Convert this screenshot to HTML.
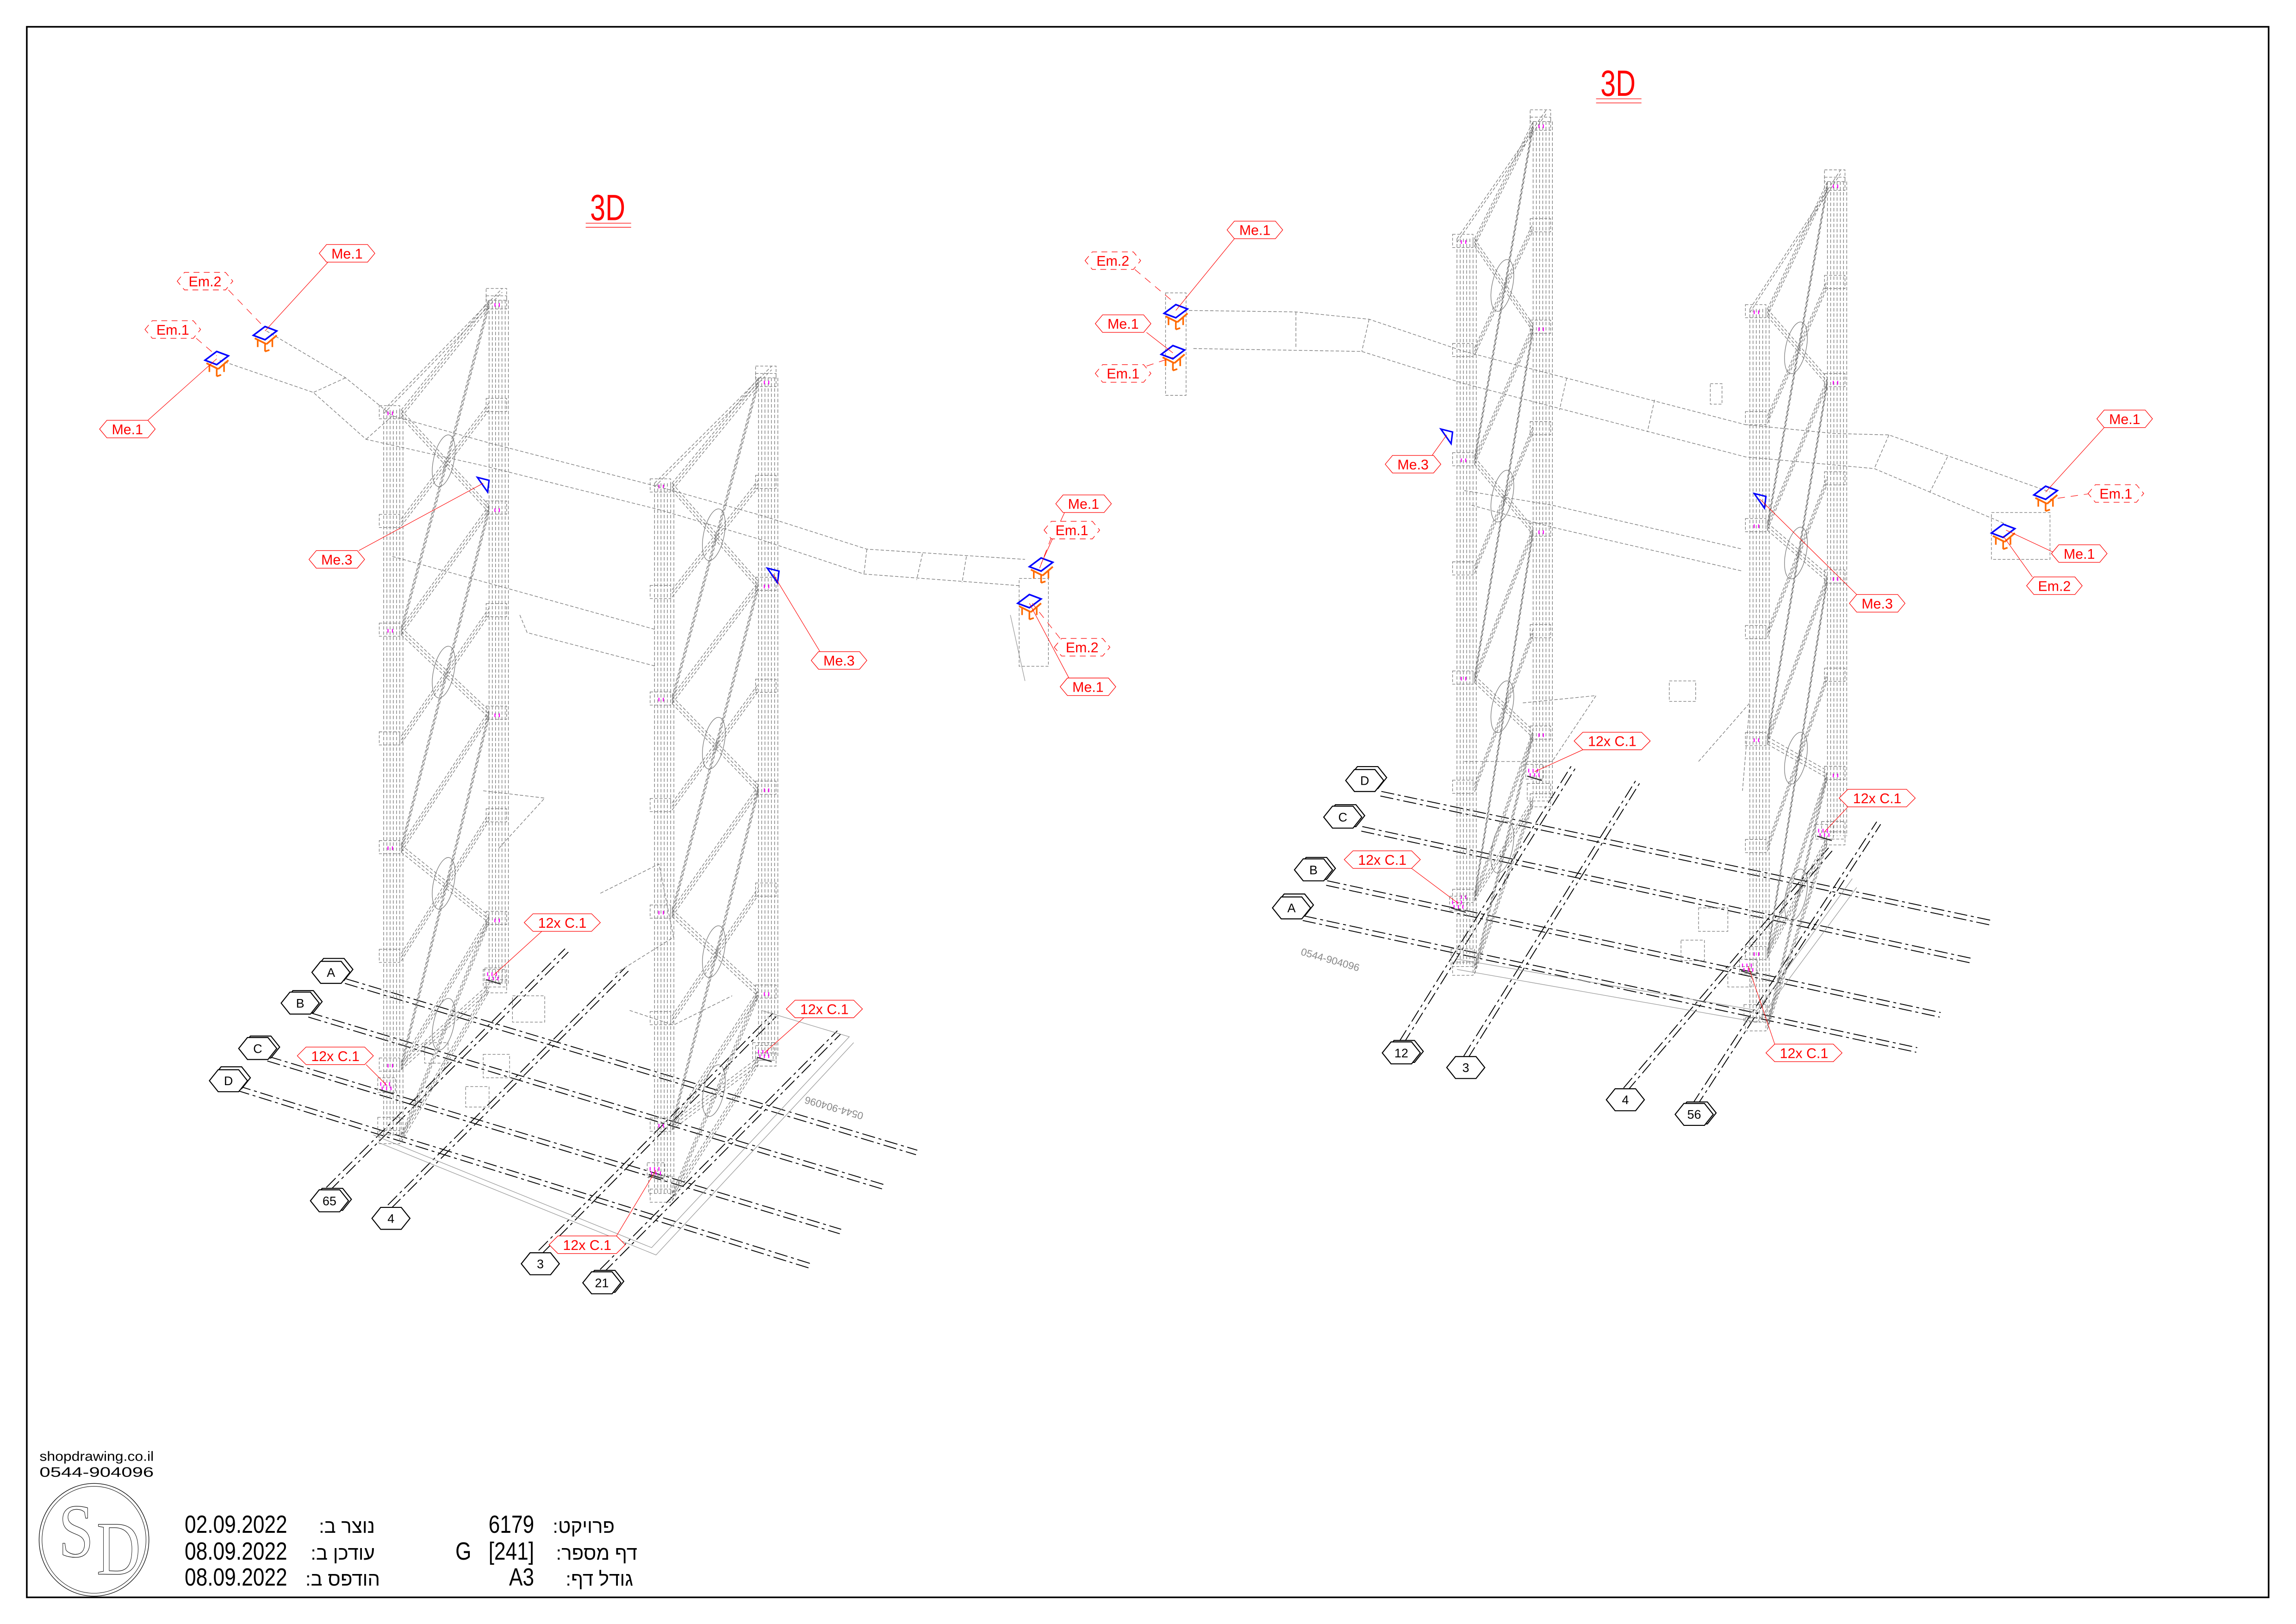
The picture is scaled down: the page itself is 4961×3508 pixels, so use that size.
<!DOCTYPE html>
<html><head><meta charset="utf-8">
<style>
html,body{margin:0;padding:0;background:#fff;}
body{width:4961px;height:3508px;position:relative;overflow:hidden;font-family:"Liberation Sans",sans-serif;}
svg{position:absolute;left:0;top:0;}
.lbl text{font-family:"Liberation Sans",sans-serif;font-size:9.6px;fill:#f00;text-anchor:middle;}
.lbl use{fill:#fff;stroke:#f00;stroke-width:0.4;}
.lbl.em use{stroke-dasharray:4 3;}
.ax use{fill:#fff;stroke:#000;stroke-width:0.7;}
.ax text{font-family:"Liberation Sans",sans-serif;font-size:8.5px;fill:#000;text-anchor:middle;}
.ldr{stroke:#f00;stroke-width:0.35;fill:none;}
.ldr.d{stroke-dasharray:5 4;}
.tt{position:absolute;white-space:nowrap;line-height:1;color:#000;}
.n{font-family:"Liberation Sans",sans-serif;font-size:54px;transform:scaleX(0.82);}
.h{font-family:"Liberation Sans","DejaVu Sans",sans-serif;font-size:42px;direction:rtl;}
</style></head><body>
<svg width="4961" height="3508" viewBox="0 0 1568 1109" preserveAspectRatio="none" xmlns="http://www.w3.org/2000/svg">
<defs>
<polygon id="hs" points="-19,0 -14,-6 14,-6 19,0 14,6 -14,6"/>
<polygon id="hl" points="-26,0 -20,-6 20,-6 26,0 20,6 -20,6"/>
<polygon id="hb" points="-13,0 -7,-7.5 7,-7.5 13,0 7,7.5 -7,7.5"/>
</defs>
<rect x="18.3" y="18.3" width="1531" height="1072.5" fill="none" stroke="#000" stroke-width="1.1"/>
<g id="geo"></g>

<text x="415" y="150.4" font-family="Liberation Sans" font-size="25" fill="#f00" text-anchor="middle" textLength="24" lengthAdjust="spacingAndGlyphs">3D</text>
<line x1="400" y1="152.4" x2="431" y2="152.4" stroke="#f00" stroke-width="0.4"/>
<line x1="400" y1="155.2" x2="431" y2="155.2" stroke="#f00" stroke-width="0.4"/>
<text x="1105" y="65.5" font-family="Liberation Sans" font-size="25" fill="#f00" text-anchor="middle" textLength="24" lengthAdjust="spacingAndGlyphs">3D</text>
<line x1="1090" y1="67.5" x2="1121" y2="67.5" stroke="#f00" stroke-width="0.4"/>
<line x1="1090" y1="70.3" x2="1121" y2="70.3" stroke="#f00" stroke-width="0.4"/>

<g>
<line class="ldr" x1="224" y1="179" x2="181" y2="226"/>
<line class="ldr d" x1="156" y1="198" x2="181" y2="224"/>
<line class="ldr d" x1="134" y1="231" x2="148" y2="243"/>
<line class="ldr" x1="101" y1="287" x2="148" y2="245"/>
<line class="ldr" x1="245" y1="376" x2="330" y2="330"/>
<line class="ldr" x1="560" y1="445" x2="528" y2="392"/>
<line class="ldr" x1="727" y1="350" x2="711" y2="385"/>
<line class="ldr d" x1="718" y1="367" x2="710" y2="388"/>
<line class="ldr d" x1="724" y1="436" x2="705" y2="412"/>
<line class="ldr" x1="730" y1="463" x2="703" y2="412"/>
<line class="ldr" x1="370" y1="636" x2="337" y2="666"/>
<line class="ldr" x1="549" y1="695" x2="522" y2="719"/>
<line class="ldr" x1="250" y1="727" x2="264" y2="741"/>
<line class="ldr" x1="421" y1="844" x2="448" y2="799"/>
<line class="ldr" x1="843" y1="163" x2="803" y2="212"/>
<line class="ldr d" x1="775" y1="184" x2="800" y2="205"/>
<line class="ldr" x1="783" y1="227" x2="801" y2="241"/>
<line class="ldr d" x1="783" y1="250" x2="801" y2="244"/>
<line class="ldr" x1="978" y1="311" x2="988" y2="297"/>
<line class="ldr" x1="1437" y1="292" x2="1397" y2="336"/>
<line class="ldr d" x1="1428" y1="337" x2="1400" y2="341"/>
<line class="ldr" x1="1402" y1="377" x2="1370" y2="362"/>
<line class="ldr" x1="1388" y1="394" x2="1368" y2="366"/>
<line class="ldr" x1="1268" y1="406" x2="1202" y2="341"/>
<line class="ldr" x1="1081" y1="512" x2="1048" y2="527"/>
<line class="ldr" x1="1262" y1="551" x2="1246" y2="568"/>
<line class="ldr" x1="964" y1="593" x2="996" y2="617"/>
<line class="ldr" x1="1212" y1="713" x2="1194" y2="660"/>
</g>

<g class="lbl em" transform="translate(140,192)"><use href="#hs"/><text y="3.5">Em.2</text></g>
<g class="lbl em" transform="translate(118,225)"><use href="#hs"/><text y="3.5">Em.1</text></g>
<g class="lbl" transform="translate(237,173)"><use href="#hs"/><text y="3.5">Me.1</text></g>
<g class="lbl" transform="translate(87,293)"><use href="#hs"/><text y="3.5">Me.1</text></g>
<g class="lbl" transform="translate(230,382)"><use href="#hs"/><text y="3.5">Me.3</text></g>
<g class="lbl" transform="translate(573,451)"><use href="#hs"/><text y="3.5">Me.3</text></g>
<g class="lbl" transform="translate(740,344)"><use href="#hs"/><text y="3.5">Me.1</text></g>
<g class="lbl em" transform="translate(732,362)"><use href="#hs"/><text y="3.5">Em.1</text></g>
<g class="lbl em" transform="translate(739,442)"><use href="#hs"/><text y="3.5">Em.2</text></g>
<g class="lbl" transform="translate(743,469)"><use href="#hs"/><text y="3.5">Me.1</text></g>
<g class="lbl" transform="translate(384,630)"><use href="#hl"/><text y="3.5">12x C.1</text></g>
<g class="lbl" transform="translate(563,689)"><use href="#hl"/><text y="3.5">12x C.1</text></g>
<g class="lbl" transform="translate(229,721)"><use href="#hl"/><text y="3.5">12x C.1</text></g>
<g class="lbl" transform="translate(401,850)"><use href="#hl"/><text y="3.5">12x C.1</text></g>

<g class="lbl em" transform="translate(760,178)"><use href="#hs"/><text y="3.5">Em.2</text></g>
<g class="lbl" transform="translate(857,157)"><use href="#hs"/><text y="3.5">Me.1</text></g>
<g class="lbl" transform="translate(767,221)"><use href="#hs"/><text y="3.5">Me.1</text></g>
<g class="lbl em" transform="translate(767,255)"><use href="#hs"/><text y="3.5">Em.1</text></g>
<g class="lbl" transform="translate(965,317)"><use href="#hs"/><text y="3.5">Me.3</text></g>
<g class="lbl" transform="translate(1451,286)"><use href="#hs"/><text y="3.5">Me.1</text></g>
<g class="lbl em" transform="translate(1445,337)"><use href="#hs"/><text y="3.5">Em.1</text></g>
<g class="lbl" transform="translate(1420,378)"><use href="#hs"/><text y="3.5">Me.1</text></g>
<g class="lbl" transform="translate(1403,400)"><use href="#hs"/><text y="3.5">Em.2</text></g>
<g class="lbl" transform="translate(1282,412)"><use href="#hs"/><text y="3.5">Me.3</text></g>
<g class="lbl" transform="translate(1101,506)"><use href="#hl"/><text y="3.5">12x C.1</text></g>
<g class="lbl" transform="translate(1282,545)"><use href="#hl"/><text y="3.5">12x C.1</text></g>
<g class="lbl" transform="translate(944,587)"><use href="#hl"/><text y="3.5">12x C.1</text></g>
<g class="lbl" transform="translate(1232,719)"><use href="#hl"/><text y="3.5">12x C.1</text></g>

<g class="ax" transform="translate(226,664)"><use href="#hb" transform="translate(2,-2)"/><use href="#hb"/><text y="3">A</text></g>
<g class="ax" transform="translate(205,685)"><use href="#hb" transform="translate(2,-1)"/><use href="#hb"/><text y="3">B</text></g>
<g class="ax" transform="translate(176,716)"><use href="#hb" transform="translate(2,-1)"/><use href="#hb"/><text y="3">C</text></g>
<g class="ax" transform="translate(156,738)"><use href="#hb" transform="translate(2,-2)"/><use href="#hb"/><text y="3">D</text></g>
<g class="ax" transform="translate(225,820)"><use href="#hb" transform="translate(2,-1)"/><use href="#hb"/><text y="3">65</text></g>
<g class="ax" transform="translate(267,832)"><use href="#hb"/><text y="3">4</text></g>
<g class="ax" transform="translate(369,863)"><use href="#hb"/><text y="3">3</text></g>
<g class="ax" transform="translate(411,876)"><use href="#hb" transform="translate(2,-1)"/><use href="#hb"/><text y="3">21</text></g>

<g class="ax" transform="translate(932,533)"><use href="#hb" transform="translate(2,-2)"/><use href="#hb"/><text y="3">D</text></g>
<g class="ax" transform="translate(917,558)"><use href="#hb" transform="translate(2,-1)"/><use href="#hb"/><text y="3">C</text></g>
<g class="ax" transform="translate(897,594)"><use href="#hb" transform="translate(2,-1)"/><use href="#hb"/><text y="3">B</text></g>
<g class="ax" transform="translate(882,620)"><use href="#hb" transform="translate(2,-2)"/><use href="#hb"/><text y="3">A</text></g>
<g class="ax" transform="translate(957,719)"><use href="#hb" transform="translate(2,-1)"/><use href="#hb"/><text y="3">12</text></g>
<g class="ax" transform="translate(1001,729)"><use href="#hb"/><text y="3">3</text></g>
<g class="ax" transform="translate(1110,751)"><use href="#hb"/><text y="3">4</text></g>
<g class="ax" transform="translate(1157,761)"><use href="#hb" transform="translate(2,-1)"/><use href="#hb"/><text y="3">56</text></g>

<text x="590" y="760" font-family="Liberation Sans" font-size="7" fill="#888" transform="rotate(196 590 760)">0544-904096</text>
<text x="888" y="652" font-family="Liberation Sans" font-size="7" fill="#888" transform="rotate(16 888 652)">0544-904096</text>

<ellipse cx="64.2" cy="1051.5" rx="37.5" ry="38.5" fill="none" stroke="#000" stroke-width="0.4"/>
<ellipse cx="64.2" cy="1051.5" rx="35.5" ry="36.5" fill="none" stroke="#000" stroke-width="0.3"/>
<text x="40" y="1063" font-family="Liberation Serif" font-size="52" fill="#fff" stroke="#000" stroke-width="0.35" textLength="24" lengthAdjust="spacingAndGlyphs">S</text>
<text x="66" y="1075" font-family="Liberation Serif" font-size="52" fill="#fff" stroke="#000" stroke-width="0.35" textLength="30" lengthAdjust="spacingAndGlyphs">D</text>
<text x="27" y="997.5" font-family="Liberation Sans" font-size="9.2" fill="#000" textLength="78" lengthAdjust="spacingAndGlyphs">shopdrawing.co.il</text>
<text x="27" y="1008.5" font-family="Liberation Sans" font-size="9.5" fill="#000" textLength="78" lengthAdjust="spacingAndGlyphs">0544-904096</text>
</svg>

<div class="tt n" style="left:399px;top:3266px;transform-origin:0 0;">02.09.2022</div>
<div class="tt n" style="left:399px;top:3324px;transform-origin:0 0;">08.09.2022</div>
<div class="tt n" style="left:399px;top:3380px;transform-origin:0 0;">08.09.2022</div>
<div class="tt h" style="right:4151px;top:3276px;">נוצר ב:</div>
<div class="tt h" style="right:4151px;top:3334px;">עודכן ב:</div>
<div class="tt h" style="right:4140px;top:3390px;">הודפס ב:</div>
<div class="tt n" style="right:3807px;top:3266px;transform-origin:100% 0;">6179</div>
<div class="tt n" style="left:984px;top:3324px;transform-origin:0 0;">G</div>
<div class="tt n" style="right:3807px;top:3324px;transform-origin:100% 0;">[241]</div>
<div class="tt n" style="right:3807px;top:3380px;transform-origin:100% 0;">A3</div>
<div class="tt h" style="right:3633px;top:3276px;">פרויקט:</div>
<div class="tt h" style="right:3584px;top:3334px;">דף מספר:</div>
<div class="tt h" style="right:3593px;top:3390px;">גודל דף:</div>

<script>
(function(){
var NS='http://www.w3.org/2000/svg',G=document.getElementById('geo');
function el(t,a){var e=document.createElementNS(NS,t);for(var k in a)e.setAttribute(k,a[k]);G.appendChild(e);return e;}
function L(x1,y1,x2,y2,c,w,d){el('line',{x1:x1,y1:y1,x2:x2,y2:y2,stroke:c||'#777','stroke-width':w||0.42,'stroke-dasharray':d===undefined?'2.3 1.3':d,fill:'none'});}
function P(pts,c,w,d){el('polyline',{points:pts.map(function(p){return p.join(',')}).join(' '),stroke:c||'#777','stroke-width':w||0.42,'stroke-dasharray':d===undefined?'2.3 1.3':d,fill:'none'});}
function box(x,y,w,h){el('rect',{x:x,y:y,width:w,height:h,fill:'none',stroke:'#777','stroke-width':0.4,'stroke-dasharray':'2 1.2'});}
function pink(x,y){L(x,y,x,y+2.5,'#ff00ff',0.7,'');}
function tower(xl,tl,bl,xr,tr,br){
  var i;
  [0,2.2,4.4,6.6,8.8,11,13.2].forEach(function(o){L(xl+o,tl,xl+o,bl);L(xr+o,tr,xr+o,br);});
  var f=[0,0.15,0.3,0.45,0.6,0.75,0.9,1];
  function yl(t){return tl+(bl-tl)*t;} function yr(t){return tr+(br-tr)*t;}
  for(i=0;i<f.length;i++){
    [0,2.5,5].forEach(function(o){L(xl+12,yl(f[i])+o,xr,yr(f[i])+o);});
    box(xl-3,yl(f[i])-3,14,9); box(xr-2,yr(f[i])-3,14,9);
    if(i%2==0){pink(xl+3,yl(f[i])+1);pink(xl+6,yl(f[i])+1);pink(xr+4,yr(f[i])+2);pink(xr+7,yr(f[i])+2);}
  }
  for(i=0;i<f.length-1;i+=2){
    var a=f[i],b=f[i+2]||1;
    [0,2.5,5].forEach(function(o){L(xl+12,yl(b)+o,xr,yr(a)+o);L(xl+12,yl(a)+o,xr,yr(b)+o);});
    var cx=(xl+xr)/2+5,cy=(yl(a)+yl(b)+yr(a)+yr(b))/4;
    el('ellipse',{cx:cx,cy:cy,rx:7,ry:18,fill:'none',stroke:'#777','stroke-width':0.4,transform:'rotate(12 '+cx+' '+cy+')'});
  }
  [0,2.5].forEach(function(o){L(xl,tl+o,xr+9,tr-8+o);});
  box(xr-2,tr-8,14,8);
  box(xl-4,bl-12,16,12); box(xr-4,br-10,16,12);
}
function grid(x1,y1,x2,y2){
  var dx=x2-x1,dy=y2-y1,l=Math.sqrt(dx*dx+dy*dy),nx=-dy/l*1.6,ny=dx/l*1.6;
  L(x1+nx,y1+ny,x2+nx,y2+ny,'#000',0.6,'9 2.5 2 2.5');
  L(x1-nx,y1-ny,x2-nx,y2-ny,'#000',0.6,'9 2.5 2 2.5');
}
function bracket(x,y){
  el('polygon',{points:[[x-8,y+2],[x,y-4],[x+8,y-1],[x,y+5]].map(function(p){return p.join(',')}).join(' '),fill:'none',stroke:'#0000ff','stroke-width':1.1});
  L(x-7,y+4,x+1,y+8,'#ff6a00',1.2,'');L(x+1,y+8,x+8,y+2,'#ff6a00',1.2,'');
  L(x-5,y+5,x-5,y+10,'#ff6a00',1.1,'');L(x,y+8,x,y+13,'#ff6a00',1.1,'');L(x+5,y+5,x+5,y+10,'#ff6a00',1.1,'');
  L(x,y+13,x+3,y+12,'#ff6a00',1.1,'');
}
function tri(x,y){el('polygon',{points:(x-4)+','+(y-4)+' '+(x+4)+','+(y-2)+' '+(x+3)+','+(y+6),fill:'none',stroke:'#0000ff','stroke-width':1});}
function c1(x,y){box(x-6,y-5,12,10);for(var i=0;i<3;i++){pink(x-4+i*3,y-2);pink(x-3+i*3,y+1);} L(x-5,y+3,x+5,y+6,'#333',0.8,'');}

grid(236,670,626,787);grid(211,693,605,811);grid(183,723,574,841);grid(162,743,555,865);
grid(224,812,387,649);grid(266,824,428,662);grid(369,855,529,693);grid(411,868,573,705);
P([[255,775],[445,852],[580,708],[520,690]],'#999',0.4,'');
P([[258,780],[448,857],[583,712]],'#999',0.4,'');
tower(262,280,775,334,205,672);
tower(447,330,815,518,258,722);
P([[182,226],[236,258],[268,284],[336,303],[452,333],[520,352],[592,375],[700,382]]);
P([[150,246],[214,268],[250,300],[330,318],[450,348],[518,368],[590,392],[697,400]]);
[[236,258,214,268],[268,284,250,300],[592,375,590,392],[630,378,626,396],[660,380,657,398]].forEach(function(s){L(s[0],s[1],s[2],s[3]);});
P([[268,380],[340,400],[448,430]]);P([[355,420],[360,432],[448,455]]);
P([[330,540],[372,545],[340,580]]);P([[410,610],[450,590],[460,640],[420,665]]);
P([[430,690],[460,700],[500,680]]);
box(696,395,20,60);
L(690,420,700,465,'#999',0.4,'');
bracket(148,244);bracket(181,227);bracket(711,385);bracket(703,410);
tri(330,330);tri(528,392);
c1(337,666);c1(264,741);c1(522,719);c1(448,799);
box(350,680,22,18);box(330,720,18,16);box(290,712,16,14);box(318,742,16,14);

grid(943,542,1359,630);grid(930,566,1346,656);grid(906,603,1325,693);grid(890,627,1309,717);
grid(957,712,1075,523);grid(1001,722,1119,533);grid(1110,744,1250,580);grid(1157,755,1283,562);
P([[995,655],[1200,690],[1265,600]],'#999',0.4,'');P([[995,662],[1200,698],[1268,606]],'#999',0.4,'');
tower(995,163,660,1047,83,545);
tower(1195,211,698,1248,124,571);
P([[812,212],[885,213],[935,218],[1000,240],[1192,290],[1252,296],[1290,297],[1400,336]]);
P([[815,238],[930,240],[1000,262],[1192,312],[1280,320],[1370,358]]);
[[885,213,885,238],[935,218,930,240],[1070,258,1065,280],[1130,273,1125,295],[1290,297,1280,320],[1330,312,1318,336]].forEach(function(s){L(s[0],s[1],s[2],s[3]);});
P([[1000,335],[1060,345],[1190,375]]);P([[1005,345],[1060,360],[1190,390]]);
P([[1040,480],[1090,475],[1060,520],[1000,520]]);P([[1160,520],[1195,480],[1190,540]]);
box(796,200,14,70);box(1360,350,40,32);
box(1140,465,18,14);box(1168,262,8,14);
bracket(803,212);bracket(801,240);bracket(1397,336);bracket(1368,362);
tri(988,297);tri(1202,341);
c1(1048,527);c1(996,617);c1(1246,568);c1(1194,660);
box(1160,620,20,16);box(1148,642,16,14);box(1180,660,16,14);
})();
</script>
</body></html>
